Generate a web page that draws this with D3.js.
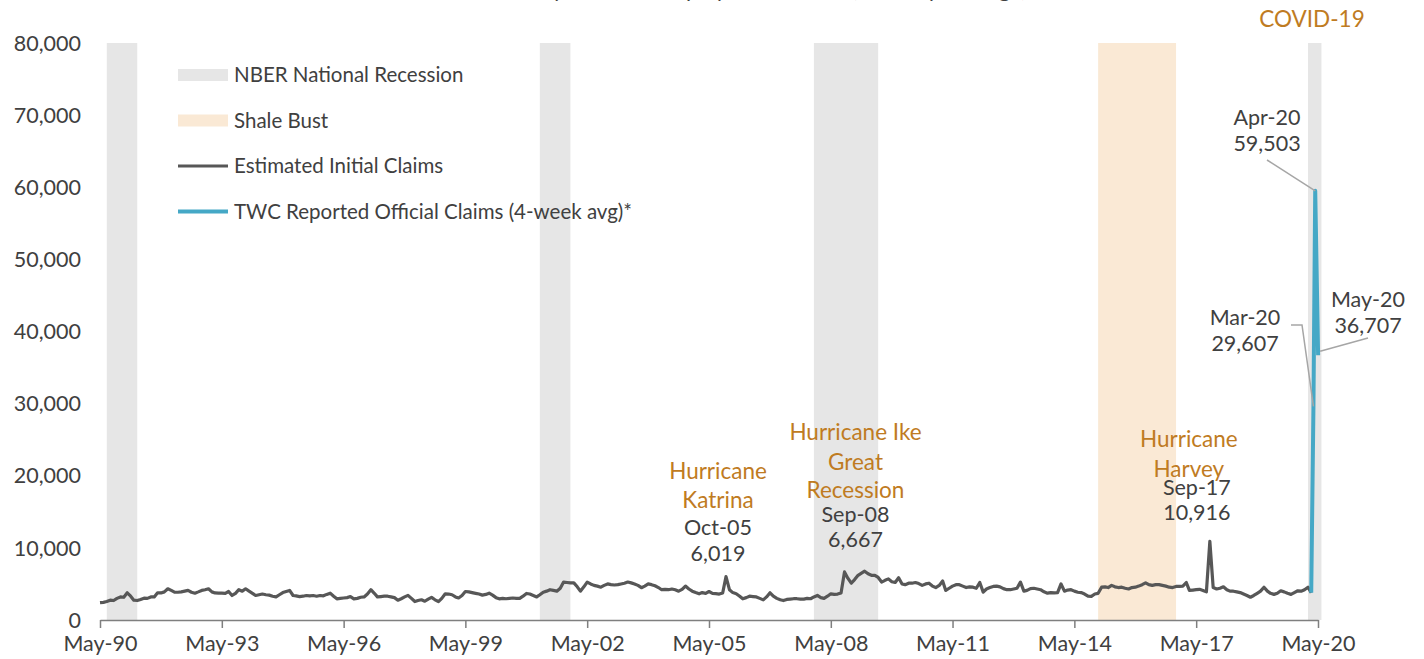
<!DOCTYPE html>
<html>
<head>
<meta charset="utf-8">
<script src="https://cdn.jsdelivr.net/npm/d3@7"></script>
<style>
  body { margin: 0; background: #fff; }
  svg { display: block; font-family: Lato, "Open Sans", sans-serif; }
</style>
</head>
<body>
<svg id="chart" width="1424" height="659"></svg>
<script>
// estimated initial claims, monthly from May-90 to Mar-20 (one row per May..Apr year)
const estStart = "1990-05";
const estimatedClaims = [
  2400, 2450, 2560, 2750, 2700, 3000, 3200, 3150, 3770, 3300, 2750, 2700,
  2850, 3030, 3000, 3200, 3200, 3770, 3750, 3900, 4330, 4100, 3860, 3850,
  3900, 4000, 4100, 3850, 3720, 3900, 4100, 4200, 4330, 3900, 3750, 3720,
  3720, 3700, 3950, 3400, 3700, 4200, 4000, 4330, 4000, 3700, 3400, 3500,
  3600, 3500, 3450, 3300, 3200, 3500, 3800, 3950, 4100, 3400, 3350, 3250,
  3300, 3400, 3350, 3400, 3300, 3400, 3350, 3550, 3720, 3300, 2940, 3000,
  3050, 3100, 3250, 2940, 3000, 3150, 3200, 3600, 4200, 3700, 3200, 3250,
  3300, 3300, 3200, 3100, 2750, 2950, 3200, 3420, 3000, 2560, 2700, 2800,
  2600, 2900, 3140, 2800, 2560, 3000, 3630, 3600, 3500, 3200, 3050, 3400,
  3950, 3900, 3800, 3700, 3600, 3450, 3550, 3720, 3450, 3100, 2940, 3000,
  2950, 3000, 3050, 3000, 3000, 3300, 3680, 3600, 3400, 3200, 3500, 3860,
  4000, 4200, 4100, 4000, 4400, 5260, 5200, 5150, 5150, 4600, 4000, 4600,
  5260, 5000, 4800, 4700, 4550, 4800, 5000, 4900, 4850, 4900, 5000, 5100,
  5260, 5150, 5000, 4800, 4480, 4700, 5000, 4900, 4750, 4500, 4200, 4250,
  4200, 4300, 4200, 4000, 4250, 4700, 4300, 4000, 3800, 3630, 3800, 3700,
  3950, 3700, 3650, 3600, 3750, 6019, 4200, 3800, 3650, 3300, 2940, 3100,
  3300, 3250, 3200, 3000, 2790, 3200, 3770, 3300, 3000, 2800, 2700, 2850,
  2900, 2950, 2950, 2900, 2900, 3000, 2950, 3200, 3400, 3100, 3000, 3300,
  3630, 3550, 3600, 3750, 6667, 5800, 5100, 5600, 6200, 6500, 6760, 6400,
  6200, 6200, 5900, 5260, 5500, 5700, 5300, 5200, 5850, 5000, 4900, 5100,
  5100, 5200, 5050, 4800, 5000, 5100, 4700, 4500, 4800, 5400, 4100, 4400,
  4700, 4900, 4900, 4700, 4500, 4600, 4550, 4400, 5200, 3860, 4300, 4500,
  4650, 4700, 4600, 4350, 4200, 4200, 4300, 4400, 5250, 4000, 4100, 4350,
  4400, 4300, 4200, 3900, 3720, 3800, 3750, 3800, 5000, 4000, 4150, 4200,
  4000, 3850, 3800, 3600, 3300, 3280, 3600, 3700, 4550, 4600, 4500, 4800,
  4600, 4500, 4550, 4400, 4300, 4500, 4550, 4700, 4900, 5160, 4900, 4800,
  4900, 4900, 4800, 4700, 4550, 4500, 4650, 4650, 4700, 5200, 4100, 4150,
  4200, 4250, 4100, 3900, 10916, 4500, 4300, 4400, 4600, 4200, 4000, 3990,
  3900, 3800, 3600, 3400, 3160, 3400, 3700, 4000, 4550, 4000, 3700, 3550,
  3700, 4050, 3900, 3700, 3550, 3800, 4050, 4000, 4200, 4550, 3770
];

// TWC reported official claims, 4-week average
const twcDates = ["2020-03-01", "2020-03-21", "2020-04-06", "2020-05-02"];
const twcValues = [3770, 29607, 59503, 36707];

const recessions = [["1990-07", "1991-03"], ["2001-03", "2001-11"], ["2007-12", "2009-06"], ["2020-02", "2020-05"]];
const shaleBust = [["2014-12", "2016-10"]];

const xTickLabels = ["May-90", "May-93", "May-96", "May-99", "May-02", "May-05",
  "May-08", "May-11", "May-14", "May-17", "May-20"];
const yTicks = [0, 10000, 20000, 30000, 40000, 50000, 60000, 70000, 80000];

const legendItems = ["NBER National Recession", "Shale Bust", "Estimated Initial Claims",
  "TWC Reported Official Claims (4-week avg)*"];

const events = [
  { date: "2005-10", value: 6019, title: ["Hurricane", "Katrina"], label: ["Oct-05", "6,019"] },
  { date: "2008-09", value: 6667, title: ["Hurricane Ike", "Great", "Recession"], label: ["Sep-08", "6,667"] },
  { date: "2017-09", value: 10916, title: ["Hurricane", "Harvey"], label: ["Sep-17", "10,916"] }
];

const grey = "#575757", blue = "#45a8c6", orange = "#bf7b22", textGrey = "#404040";
const recessionFill = "#e6e6e6", shaleFill = "#fae9d5";

const parseMonth = d3.timeParse("%Y-%m");
const parseDay = d3.timeParse("%Y-%m-%d");
const parseTick = d3.timeParse("%b-%y");

const svg = d3.select("#chart");

const x = d3.scaleTime()
  .domain([parseTick("May-90"), parseTick("May-20")])
  .range([100, 1318]);
const y = d3.scaleLinear().domain([0, 80000]).range([620, 43]);

const estData = estimatedClaims.map((v, i) => ({ date: d3.timeMonth.offset(parseMonth(estStart), i), value: v }));
const twcData = twcDates.map((d, i) => ({ date: parseDay(d), value: twcValues[i] }));

// title (mostly above the visible area in the original)
svg.append("text")
  .attr("x", 730).attr("y", -3)
  .attr("text-anchor", "middle")
  .attr("font-size", 22).attr("fill", textGrey)
  .text("Texas Weekly Initial Unemployment Claims (Monthly Average)");

// shaded bands
const band = (rows, fill) => svg.append("g").selectAll("rect")
  .data(rows).join("rect")
  .attr("x", d => x(parseMonth(d[0])))
  .attr("width", d => x(d3.timeMonth.offset(parseMonth(d[1]), 1)) - x(parseMonth(d[0])))
  .attr("y", y(80000))
  .attr("height", y(0) - y(80000))
  .attr("fill", fill);
band(recessions, recessionFill);
band(shaleBust, shaleFill);

// y axis labels
svg.append("g").selectAll("text")
  .data(yTicks).join("text")
  .attr("x", 81).attr("y", d => y(d))
  .attr("dy", "0.36em")
  .attr("text-anchor", "end")
  .attr("font-size", 21.5).attr("fill", textGrey)
  .text(d => d3.format(",")(d));

// x axis
const xAxis = svg.append("g")
  .attr("transform", `translate(0,${y(0)})`)
  .call(d3.axisBottom(x)
    .tickValues(xTickLabels.map(parseTick))
    .tickFormat(d3.timeFormat("%b-%y"))
    .tickSize(8)
    .tickSizeOuter(0)
    .tickPadding(8));
xAxis.select(".domain").attr("stroke", "#7f7f7f").attr("stroke-width", 1.5);
xAxis.selectAll(".tick line").attr("stroke", "#7f7f7f").attr("stroke-width", 1.5);
xAxis.selectAll(".tick text")
  .attr("font-family", "Lato, sans-serif")
  .attr("font-size", 21.5).attr("fill", textGrey);

// lines
const line = d3.line().x(d => x(d.date)).y(d => y(d.value));
svg.append("path").datum(estData)
  .attr("d", line).attr("fill", "none")
  .attr("stroke", grey).attr("stroke-width", 3.2).attr("stroke-linejoin", "round");
svg.append("path").datum(twcData)
  .attr("d", line).attr("fill", "none")
  .attr("stroke", blue).attr("stroke-width", 4).attr("stroke-linejoin", "round");

// legend
const legend = svg.append("g").attr("transform", "translate(178,75)");
legendItems.forEach((name, i) => {
  const g = legend.append("g").attr("transform", `translate(0,${i * 45.5})`);
  if (i < 2) {
    g.append("rect").attr("x", 0).attr("y", -6).attr("width", 50).attr("height", 12)
      .attr("fill", i === 0 ? recessionFill : shaleFill);
  } else {
    g.append("line").attr("x1", 0).attr("x2", 50)
      .attr("stroke", i === 2 ? grey : blue).attr("stroke-width", i === 2 ? 3 : 4);
  }
  g.append("text").attr("x", 56).attr("dy", "0.36em")
    .attr("font-size", 20.5).attr("fill", textGrey).text(name);
});

// event annotations
const offsets = [
  { dx: -8, titleY: [479, 508], labelY: [535, 561] },
  { dx: 11, titleY: [440, 470, 498], labelY: [522, 547] },
  { dx: -13, titleY: [447, 477], labelY: [495, 520] }
];
events.forEach((ev, i) => {
  const cx = x(parseMonth(ev.date)) + offsets[i].dx;
  ev.title.forEach((t, j) => svg.append("text")
    .attr("x", i === 2 ? cx - 8 : cx).attr("y", offsets[i].titleY[j])
    .attr("text-anchor", "middle").attr("font-size", 22.5).attr("fill", orange).text(t));
  ev.label.forEach((t, j) => svg.append("text")
    .attr("x", cx).attr("y", offsets[i].labelY[j])
    .attr("text-anchor", "middle").attr("font-size", 21.5).attr("fill", textGrey).text(t));
});

svg.append("text").attr("x", 1312).attr("y", 27)
  .attr("text-anchor", "middle").attr("font-size", 22.5).attr("fill", orange).text("COVID-19");

// COVID point labels with leader lines
const leader = "#a6a6a6";
const pt = i => [x(twcData[i].date), y(twcData[i].value)];
const covidLabel = (cx, y0, lines) => lines.forEach((t, j) => svg.append("text")
  .attr("x", cx).attr("y", y0 + j * 25.5)
  .attr("text-anchor", "middle").attr("font-size", 21.5).attr("fill", textGrey).text(t));

covidLabel(1267, 125, ["Apr-20", "59,503"]);
covidLabel(1245, 325, ["Mar-20", "29,607"]);
covidLabel(1368, 307, ["May-20", "36,707"]);

const lk = d3.line();
const [ax, ay] = pt(2), [mx, my] = pt(1), [nx, ny] = pt(3);
svg.append("path").attr("d", lk([[1267, 160], [ax, ay]]))
  .attr("fill", "none").attr("stroke", leader).attr("stroke-width", 1.5);
svg.append("path").attr("d", lk([[1291, 325], [1302, 325], [mx, my]]))
  .attr("fill", "none").attr("stroke", leader).attr("stroke-width", 1.5);
svg.append("path").attr("d", lk([[1368, 338], [nx + 2, ny - 4]]))
  .attr("fill", "none").attr("stroke", leader).attr("stroke-width", 1.5);
</script>
</body>
</html>
